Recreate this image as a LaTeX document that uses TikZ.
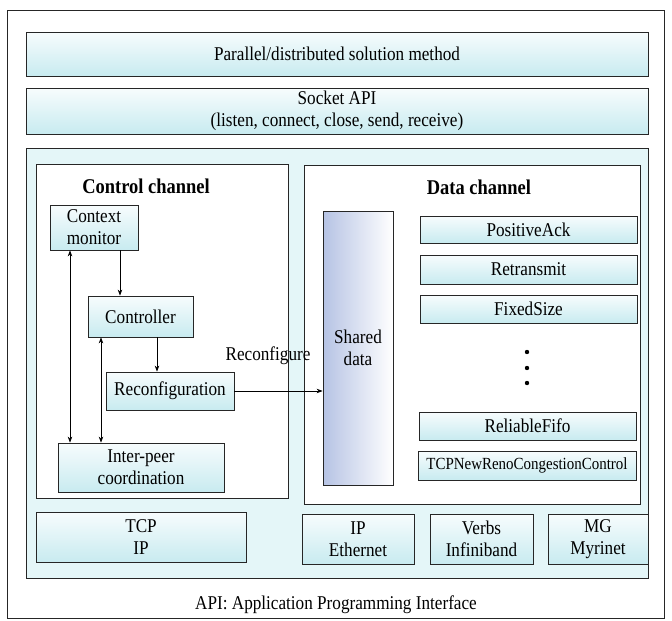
\documentclass[tikz,border=0pt]{standalone}
\usepackage{fontspec}
\setmainfont{Liberation Serif}[FakeStretch=0.88]
\usetikzlibrary{arrows.meta}
\definecolor{cyanlo}{HTML}{C8EBF0}
\definecolor{cyanhi}{HTML}{F7FCFD}
\definecolor{bigfill}{HTML}{E4F6F8}
\definecolor{lav}{HTML}{B6C3E4}
\tikzset{
  txt/.style={font=\fontsize{19.5}{22}\selectfont},
  box/.style={draw=black!85, line width=0.8pt, top color=cyanhi, bottom color=cyanlo,
    align=center, inner sep=0pt, txt},
  panel/.style={draw=black!85, line width=0.8pt, fill=white, inner sep=0pt},
  ttl/.style={font=\fontsize{21}{24}\selectfont\bfseries},
  arr/.style={line width=0.7pt, -{Stealth[length=6pt,width=4.5pt]}},
  darr/.style={line width=0.7pt, {Stealth[length=6pt,width=4.5pt]}-{Stealth[length=6pt,width=4.5pt]}},
}
\begin{document}
\begin{tikzpicture}[x=1pt,y=-1pt]
\useasboundingbox (0,0) rectangle (672,621);
% outer frame
\node[draw=black!85, line width=0.8pt, minimum width=657pt, minimum height=608pt, inner sep=0pt] (frame) at (335.5,314) {};
% top layers
\node[box, minimum width=622pt, minimum height=44pt] (solution) at (337,54) {Parallel/distributed solution method};
\node[box, minimum width=622pt, minimum height=46pt] (socket) at (337,111) {Socket API\\(listen, connect, close, send, receive)};
% big box
\node[draw=black!85, line width=0.8pt, fill=bigfill, minimum width=622pt, minimum height=430pt, inner sep=0pt] (big) at (337,363) {};
% channels
\node[panel, minimum width=252pt, minimum height=334pt] (ctrl) at (162,331) {};
\node[panel, minimum width=336pt, minimum height=339pt] (data) at (472,334.5) {};
\node[ttl] (ctrltitle) at (146,186) {Control channel};
\node[ttl] (datatitle) at (479,187) {Data channel};
% control channel boxes
\node[box, minimum width=88pt, minimum height=45pt] (ctx) at (94,227.5) {Context\\monitor};
\node[box, minimum width=105pt, minimum height=41pt] (controller) at (140.5,316.5) {Controller};
\node[box, minimum width=128pt, minimum height=38pt] (reconf) at (170,391) {Reconfiguration};
\node[box, minimum width=166pt, minimum height=49pt] (inter) at (141,467.5) {Inter-peer\\coordination};
% data channel boxes
\node[draw=black!85, line width=0.8pt, left color=lav, right color=white, minimum width=70pt, minimum height=274pt, inner sep=0pt, align=center, txt] (shared) at (358,348) {Shared\\data};
\node[box, minimum width=217pt, minimum height=27pt] (pos) at (528.5,229.5) {PositiveAck};
\node[box, minimum width=217pt, minimum height=29pt] (retr) at (528.5,269.5) {Retransmit};
\node[box, minimum width=217pt, minimum height=28pt] (fixed) at (528.5,309) {FixedSize};
\node[box, minimum width=217pt, minimum height=28pt] (rel) at (527.5,426) {ReliableFifo};
\node[box, minimum width=218pt, minimum height=29pt, font=\fontsize{17}{20}\selectfont] (tcpnr) at (527,465.5) {TCPNewRenoCongestionControl};
\foreach \yy/\nm in {352/d1,368/d2,383/d3}
  \fill (527,\yy) circle (2.2pt) coordinate (\nm);
% bottom boxes
\node[box, minimum width=210pt, minimum height=50pt] (tcpip) at (141,537) {TCP\\IP};
\node[box, minimum width=112pt, minimum height=50pt] (ipeth) at (358,539) {IP\\Ethernet};
\node[box, minimum width=103pt, minimum height=50pt] (verbs) at (481.5,539) {Verbs\\Infiniband};
\node[box, minimum width=100pt, minimum height=50pt] (mg) at (598,539) {MG\\Myrinet};
% caption
\node[txt] (caption) at (336,605) {API: Application Programming Interface};
% connectors
\coordinate (xa) at (120,0);
\coordinate (xb) at (157,0);
\coordinate (xc) at (70,0);
\coordinate (xd) at (101,0);
\draw[arr] (ctx.south -| xa) -- (controller.north -| xa);
\draw[arr] (controller.south -| xb) -- (reconf.north -| xb);
\draw[darr] (ctx.south -| xc) -- (inter.north -| xc);
\draw[darr] (controller.south -| xd) -- (inter.north -| xd);
\draw[arr] (reconf.east) -- (reconf.east -| shared.west);
\node[txt] (reconflabel) at (268,356) {Reconfigure};
\end{tikzpicture}
\end{document}
